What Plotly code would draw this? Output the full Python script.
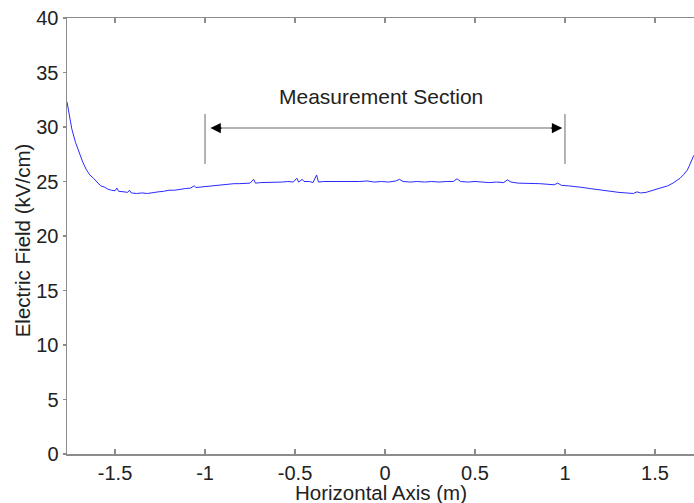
import plotly.graph_objects as go

# Data
x_pos = [-1.767, -1.755, -1.74, -1.72, -1.70, -1.68, -1.66, -1.64, -1.62, -1.60,
         -1.58, -1.56, -1.54, -1.52, -1.50, -1.49, -1.48, -1.45, -1.43, -1.42,
         -1.41, -1.38, -1.35, -1.32, -1.29, -1.26, -1.23, -1.20, -1.17, -1.14,
         -1.11, -1.08, -1.06, -1.05, -1.02, -0.99, -0.96, -0.93, -0.90, -0.87,
         -0.84, -0.81, -0.78, -0.75, -0.73, -0.72, -0.69, -0.66, -0.63, -0.60,
         -0.57, -0.54, -0.51, -0.49, -0.48, -0.46, -0.45, -0.42, -0.40, -0.38,
         -0.37, -0.34, -0.30, -0.26, -0.22, -0.18, -0.14, -0.10, -0.06, -0.02,
         0.02, 0.06, 0.08, 0.10, 0.14, 0.18, 0.22, 0.26, 0.30, 0.34,
         0.38, 0.40, 0.42, 0.46, 0.50, 0.54, 0.58, 0.62, 0.66, 0.68,
         0.70, 0.74, 0.78, 0.82, 0.86, 0.90, 0.94, 0.96, 0.98, 1.02,
         1.06, 1.10, 1.14, 1.18, 1.22, 1.26, 1.30, 1.34, 1.38, 1.40,
         1.42, 1.45, 1.48, 1.51, 1.54, 1.57, 1.60, 1.62, 1.64, 1.66,
         1.68, 1.69, 1.70, 1.71, 1.716]
e_field = [32.3, 31.0, 29.8, 28.6, 27.6, 26.8, 26.1, 25.6, 25.3, 24.9,
           24.6, 24.5, 24.3, 24.2, 24.15, 24.4, 24.1, 24.05, 24.0, 24.2,
           23.95, 23.9, 23.95, 23.9, 24.0, 24.05, 24.1, 24.2, 24.2, 24.3,
           24.35, 24.4, 24.6, 24.45, 24.5, 24.55, 24.65, 24.7, 24.7, 24.75,
           24.8, 24.8, 24.85, 24.85, 25.2, 24.85, 24.9, 24.9, 24.95, 24.9,
           24.95, 25.0, 24.95, 25.3, 24.95, 25.2, 25.0, 25.0, 24.9, 25.6,
           24.95, 25.0, 25.0, 24.95, 25.0, 24.95, 25.0, 25.05, 24.95, 25.0,
           24.95, 25.05, 25.2, 25.0, 24.95, 25.0, 24.95, 25.0, 24.95, 25.0,
           25.0, 25.25, 25.0, 24.95, 25.0, 24.95, 24.9, 24.95, 24.9, 25.15,
           24.95, 24.85, 24.85, 24.8, 24.8, 24.75, 24.7, 24.85, 24.65, 24.6,
           24.55, 24.45, 24.35, 24.25, 24.15, 24.1, 24.0, 23.95, 23.9, 24.05,
           23.95, 24.0, 24.15, 24.3, 24.45, 24.6, 24.85, 25.05, 25.3, 25.65,
           26.05, 26.4, 26.75, 27.1, 27.4]

x_ticks = [-1.5, -1, -0.5, 0, 0.5, 1, 1.5]
x_tick_labels = ["-1.5", "-1", "-0.5", "0", "0.5", "1", "1.5"]
y_ticks = [0, 5, 10, 15, 20, 25, 30, 35, 40]

section_start = -1.0
section_end = 1.0
section_label = "Measurement Section"
x_title = "Horizontal Axis (m)"
y_title = "Electric Field (kV/cm)"

FONT = "Liberation Sans, Arial, sans-serif"
AXIS_GRAY = "#8c8c8c"
TEXT = "#222222"

fig = go.Figure()
fig.add_trace(go.Scatter(x=x_pos, y=e_field, mode="lines",
                         line=dict(color="#2a2aff", width=1),
                         showlegend=False, hoverinfo="skip"))

# vertical markers of the section
for xv in (section_start, section_end):
    fig.add_shape(type="line", xref="x", yref="y", x0=xv, x1=xv, y0=26.6, y1=31.2,
                  line=dict(color="#9a9a9a", width=1.5))
# gray arrow shaft
fig.add_shape(type="line", xref="x", yref="y", x0=-0.96, x1=0.975, y0=29.9, y1=29.9,
              line=dict(color="#9a9a9a", width=1.5))
# black arrowheads
fig.add_annotation(x=-0.97, y=29.9, ax=-0.90, ay=29.9, axref="x", ayref="y",
                   xref="x", yref="y", showarrow=True, arrowhead=2, arrowsize=1.6,
                   arrowwidth=1.3, arrowcolor="black", text="")
fig.add_annotation(x=0.985, y=29.9, ax=0.915, ay=29.9, axref="x", ayref="y",
                   xref="x", yref="y", showarrow=True, arrowhead=2, arrowsize=1.6,
                   arrowwidth=1.3, arrowcolor="black", text="")
fig.add_annotation(x=-0.02, y=32.8, xref="x", yref="y", text=section_label,
                   showarrow=False, font=dict(family=FONT, size=21, color=TEXT))

# axis titles
fig.add_annotation(x=0.5, y=-0.0894, xref="paper", yref="paper", text=x_title,
                   showarrow=False, xanchor="center", yanchor="middle",
                   font=dict(family=FONT, size=20.5, color=TEXT))
fig.add_annotation(x=-0.0718, y=0.49, xref="paper", yref="paper", text=y_title,
                   showarrow=False, xanchor="center", yanchor="middle", textangle=-90,
                   font=dict(family=FONT, size=20.5, color=TEXT))

fig.update_layout(
    width=694, height=503,
    margin=dict(l=67, r=0, t=18, b=49, autoexpand=False),
    paper_bgcolor="white", plot_bgcolor="white",
    font=dict(family=FONT, size=20, color=TEXT),
    showlegend=False,
)
fig.update_xaxes(range=[-1.767, 1.717], tickvals=x_ticks, ticktext=x_tick_labels,
                 automargin=False, ticklabeloverflow="allow",
                 showgrid=False, zeroline=False, showline=True, linecolor=AXIS_GRAY,
                 linewidth=1.5, mirror="ticks", ticks="inside", ticklen=5,
                 tickcolor=AXIS_GRAY, tickwidth=1.3,
                 tickfont=dict(family=FONT, size=20, color=TEXT))
fig.update_yaxes(range=[0, 40], tickvals=y_ticks, automargin=False,
                 ticklabeloverflow="allow",
                 showgrid=False, zeroline=False, showline=True, linecolor=AXIS_GRAY,
                 linewidth=1.5, ticks="outside", ticklen=3,
                 tickcolor=AXIS_GRAY, tickwidth=1.3,
                 tickfont=dict(family=FONT, size=20, color=TEXT))

# remove the page's default body margin so the figure fills the window exactly
fig.write_html("out.html",
               config={"displayModeBar": False, "staticPlot": True},
               post_script="document.body.style.margin='0';"
                           "document.body.style.overflow='hidden';"
                           "document.documentElement.style.overflow='hidden';")
